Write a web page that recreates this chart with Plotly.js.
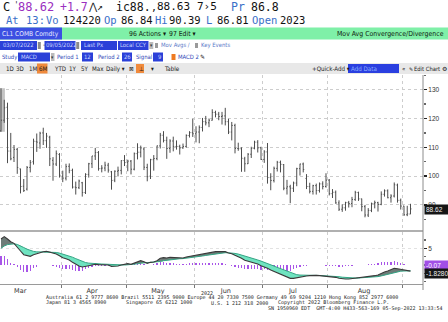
<!DOCTYPE html>
<html><head><meta charset="utf-8">
<script src="https://cdn.plot.ly/plotly-3.0.1.min.js"></script>
<style>html,body{margin:0;padding:0;background:#fff;overflow:hidden}#chart{width:448px;height:322px}</style>
</head><body><div id="chart"></div>
<script>
// ---- data ----
const dates = ["03-07","03-08","03-09","03-10","03-11","03-14","03-15","03-16","03-17","03-18","03-21","03-22","03-23","03-24","03-25","03-28","03-29","03-30","03-31",
"04-01","04-04","04-05","04-06","04-07","04-08","04-11","04-12","04-13","04-14","04-18","04-19","04-20","04-21","04-22","04-25","04-26","04-27","04-28","04-29",
"05-02","05-03","05-04","05-05","05-06","05-09","05-10","05-11","05-12","05-13","05-16","05-17","05-18","05-19","05-20","05-23","05-24","05-25","05-26","05-27","05-31",
"06-01","06-02","06-03","06-06","06-07","06-08","06-09","06-10","06-13","06-14","06-15","06-16","06-17","06-21","06-22","06-23","06-24","06-27","06-28","06-29","06-30",
"07-01","07-05","07-06","07-07","07-08","07-11","07-12","07-13","07-14","07-15","07-18","07-19","07-20","07-21","07-22","07-25","07-26","07-27","07-28","07-29",
"08-01","08-02","08-03","08-04","08-05","08-08","08-09","08-10","08-11","08-12","08-15","08-16","08-17","08-18","08-19","08-22","08-23","08-24","08-25","08-26","08-29","08-30","08-31",
"09-01","09-02","09-05"];
const openPx = [115.7,119.4,123.9,108.7,106.5,109.3,102.5,96.5,95.5,103.0,105.0,112.0,111.5,115.0,112.3,113.5,105.5,104.2,107.5,
100.0,99.3,103.4,102.0,96.2,96.0,97.7,94.3,100.6,104.3,107.0,108.2,102.6,102.8,103.8,101.5,98.6,101.7,102.0,105.4,
104.7,105.2,102.4,107.8,108.3,109.4,103.0,100.0,105.7,106.1,110.5,114.2,112.4,109.6,112.2,110.3,110.3,109.8,110.3,114.1,115.1,
114.7,115.3,116.9,118.9,118.5,119.4,122.1,121.5,120.7,120.9,118.9,115.3,117.6,109.6,109.5,106.0,104.3,107.6,109.6,111.8,109.8,
105.8,108.4,99.5,98.5,102.7,104.8,104.0,95.8,96.3,95.8,97.6,102.6,104.2,99.2,96.4,94.7,96.7,95.0,97.3,96.4,
98.6,93.9,94.4,90.7,88.5,89.0,90.8,90.5,91.9,94.3,92.1,89.4,86.5,88.1,90.5,90.8,90.2,93.7,94.9,92.5,93.1,96.9,91.6,
89.6,86.6,86.84];
const highPx = [130.5,126.5,125.5,115.0,110.8,109.8,102.6,99.0,103.5,105.6,113.0,114.8,115.4,116.8,115.0,114.0,106.6,108.9,108.0,
101.9,104.3,104.4,102.6,98.1,98.8,98.0,101.0,104.6,107.0,109.8,108.7,103.8,105.0,104.6,101.8,102.0,103.3,105.5,107.3,
105.7,105.6,108.2,111.4,110.6,110.0,104.3,106.0,107.3,110.6,115.0,115.6,113.7,112.8,113.7,112.4,110.9,111.3,114.5,115.6,119.9,
117.3,117.6,120.2,120.9,120.0,123.2,122.7,122.3,122.3,123.7,119.9,118.8,118.2,111.6,110.0,106.7,108.0,110.2,112.3,112.5,110.2,
109.0,111.5,101.0,103.3,105.3,105.4,104.2,98.7,97.0,98.1,102.9,104.3,104.7,100.7,97.7,97.0,97.4,97.8,98.2,101.0,
99.0,95.5,95.0,91.6,90.2,91.1,91.4,92.8,94.9,94.6,92.2,90.0,88.9,90.8,91.5,91.1,94.7,95.4,95.4,93.7,97.8,97.4,92.2,
89.7,89.7,90.39];
const lowPx = [115.4,118.5,104.5,105.5,104.9,100.8,94.0,94.5,95.0,101.3,104.0,108.4,109.5,110.8,109.8,103.5,98.4,103.5,99.5,
97.9,98.5,101.0,95.7,93.6,95.5,92.9,93.8,99.5,102.8,105.6,101.9,101.3,101.7,101.2,95.3,97.9,99.9,100.6,103.5,
101.7,100.6,102.0,105.8,106.5,102.1,98.2,99.0,101.9,105.5,109.6,111.7,106.0,108.1,108.6,109.2,107.5,109.5,109.9,113.4,113.6,
111.7,111.4,115.5,117.6,117.0,119.3,120.4,119.4,117.9,117.6,114.6,112.4,107.9,108.8,101.5,101.5,104.2,106.3,109.3,108.2,105.6,
104.6,97.4,95.1,97.8,101.6,101.3,95.1,93.6,90.6,94.5,96.5,100.2,101.3,95.5,94.0,93.6,93.6,94.3,95.4,96.0,
93.3,92.4,90.4,87.9,87.6,88.0,89.1,89.2,91.4,91.4,87.8,85.7,85.8,87.5,88.8,87.7,89.9,92.9,92.3,90.8,92.6,90.8,88.4,
86.2,86.1,86.81];
const closePx = [119.4,123.7,108.7,106.0,109.3,103.0,96.4,95.0,103.0,104.7,112.1,111.8,114.9,112.3,113.9,106.0,104.2,107.8,100.3,
99.3,103.3,102.0,96.2,96.0,98.3,94.3,100.6,104.3,107.0,108.2,102.6,102.8,103.8,102.1,98.5,101.7,102.0,105.4,104.7,
105.2,102.4,107.8,108.3,109.8,103.1,99.8,105.7,106.1,110.5,114.2,112.4,109.6,112.2,110.3,110.3,109.8,110.3,114.1,115.1,114.7,
115.3,116.9,118.9,118.5,119.4,122.1,121.5,120.7,120.9,118.9,115.3,117.6,109.6,109.5,106.2,104.3,107.6,109.6,111.8,109.8,105.8,
108.4,99.5,98.5,102.7,104.8,104.1,95.8,96.3,95.8,97.6,102.6,104.2,102.3,96.4,94.7,96.7,95.0,97.3,96.4,98.6,
93.9,94.4,90.7,88.5,89.0,90.8,90.5,91.9,94.3,92.1,89.4,86.5,88.1,90.5,90.8,90.2,93.7,94.9,92.5,93.1,97.0,91.6,89.6,
86.6,86.9,88.62];
const macdVals = [7.8,8.5,7.8,7.0,6.5,5.5,4.2,3.1,2.8,2.6,3.1,3.4,3.9,4.0,4.1,3.9,3.5,3.3,2.8,
2.2,1.9,1.5,0.8,0.2,-0.3,-0.6,-0.5,-0.2,0.0,0.2,0.1,0.1,0.1,0.0,-0.4,-0.4,-0.3,0.0,0.2,
0.4,0.2,0.6,1.0,1.3,1.0,0.5,0.8,0.9,1.3,2.0,2.2,2.1,2.3,2.2,2.2,2.1,2.1,2.4,2.6,2.8,
2.9,3.1,3.4,3.5,3.6,3.9,4.0,4.0,4.1,4.0,3.6,3.4,2.9,2.5,2.0,1.4,1.1,0.9,0.7,0.3,-0.2,
-0.5,-1.0,-1.5,-1.9,-2.3,-2.6,-3.2,-3.6,-4.0,-4.0,-3.8,-3.5,-3.3,-3.3,-3.2,-3.1,-3.1,-3.2,-3.3,-3.4,
-3.5,-3.5,-3.7,-4.0,-4.2,-4.2,-4.2,-4.1,-3.9,-3.8,-3.7,-3.7,-3.6,-3.4,-3.2,-3.0,-2.5,-2.1,-1.8,-1.5,-1.0,-1.1,-1.3,
-1.6,-1.8,-1.828];
const signalVals = [5.0,5.7,6.12,6.30,6.34,6.17,5.78,5.24,4.75,4.32,4.08,3.94,3.93,3.94,3.97,3.96,3.87,3.76,3.57,
3.30,3.02,2.72,2.34,1.91,1.47,1.06,0.75,0.56,0.45,0.40,0.34,0.29,0.25,0.20,0.08,-0.02,-0.08,-0.06,-0.01,
0.07,0.10,0.20,0.36,0.55,0.64,0.61,0.65,0.70,0.82,1.06,1.29,1.45,1.62,1.74,1.83,1.88,1.92,2.02,2.14,2.27,
2.40,2.54,2.71,2.87,3.02,3.19,3.35,3.48,3.60,3.68,3.66,3.61,3.47,3.28,3.02,2.70,2.38,2.08,1.81,1.51,1.17,
0.84,0.47,0.08,-0.32,-0.72,-1.10,-1.52,-1.94,-2.35,-2.68,-2.90,-3.02,-3.08,-3.12,-3.14,-3.13,-3.12,-3.14,-3.17,-3.22,
-3.28,-3.32,-3.40,-3.52,-3.66,-3.77,-3.86,-3.91,-3.91,-3.89,-3.85,-3.82,-3.78,-3.70,-3.60,-3.48,-3.28,-3.04,-2.79,-2.53,-2.22,-2.00,-1.86,
-1.81,-1.78,-1.758];
const monthLabels = ["Mar","Apr","May","Jun","Jul","Aug"];
const monthLabelPos = [5.9, 28, 48.3, 69.2, 89.8, 111.7];
const monthStarts = [18.5, 38.5, 59.5, 80.5, 100.5, 123.5];
const priceTicks = [90, 100, 110, 120, 130];
const macdTicks = [5];

// ---- derived ----
const xi = dates.map((d, i) => i);
const hist = macdVals.map((m, i) => m - signalVals[i]);
const upper = macdVals.map((m, i) => Math.max(m, signalVals[i]));
const lower = macdVals.map((m, i) => Math.min(m, signalVals[i]));

const W = 448, H = 322;
const px = x => x / W, py = y => 1 - y / H;
const DOMX = [0, 423 / W];
const MONO = "DejaVu Sans Mono, monospace";
const COND = "'Liberation Sans Narrow','DejaVu Sans Condensed','Liberation Sans',Arial,sans-serif";
const SANS = "'Liberation Sans', Arial, sans-serif";

const shapes = [];
const ann = [];
function rect(x0, y0, x1, y1, color) {
  shapes.push({type: 'rect', xref: 'paper', yref: 'paper', x0: px(x0), x1: px(x1), y0: py(y1), y1: py(y0),
    fillcolor: color, line: {width: 0}, layer: 'below'});
}
function txt(x, y, text, color, size, family, anchor) {
  ann.push({xref: 'paper', yref: 'paper', x: px(x), y: py(y), text: text, showarrow: false,
    xanchor: anchor || 'left', yanchor: 'middle', borderpad: 0,
    font: {color: color, size: size, family: family}});
}

// header line 1
const BLUE = '#3a6fc8', PURP = '#9a2fc0';
txt(2, 7, 'C', '#111', 12, MONO);
txt(13, 5.5, "'", '#333', 8, MONO);
txt(17, 7, '88.62', PURP, 12, MONO);
txt(59, 7, '+1.7', PURP, 11.5, MONO);
txt(87, 7, '⋀↗', '#222', 10, MONO);
txt(115, 7, 'ic88.', '#111', 11.5, MONO);
txt(150, 7.5, ',', '#111', 10, MONO);
txt(156, 7, '88.63', '#111', 11, MONO);
txt(196, 7, '7›5', '#111', 11, MONO);
txt(230, 7, 'Pr', BLUE, 11.5, MONO);
txt(250, 7, '86.8', '#111', 11.5, MONO);
// header line 2
[[5,'At',BLUE],[25,'13:',BLUE],[45,'Vo',BLUE],[62,'124220','#111'],[103,'Op',BLUE],[120,'86.84','#111'],
 [154,'Hi',BLUE],[168,'90.39','#111'],[205,'L',BLUE],[216,'86.81','#111'],[251,'Open',BLUE],[279,'2023','#111']]
 .forEach(t => txt(t[0], 20, t[1], t[2], 10.5, MONO));

// green title bar
rect(0, 27.5, 448, 39.5, '#7ff0a8');
rect(0, 27.5, 62, 39.5, '#3c4fe2');
txt(1, 33.5, 'CL1 COMB Comdty', '#e6ebff', 6.6, COND);
txt(128, 33.5, '96 Actions ▾', '#102010', 6.8, COND);
txt(168, 33.5, '97 Edit ▾', '#102010', 6.8, COND);
txt(445, 33.5, 'Mov Avg Convergence/Divergence', '#102010', 6.9, COND, 'right');

// row 3
const BOX = '#2b40d8', BOXT = '#c9d4ff', LBL = '#2f49b8';
const S3 = 5.9;
rect(0, 41, 37, 50, BOX); txt(1.5, 45.5, '03/07/2022', BOXT, S3, COND);
rect(37.8, 42, 40.8, 49, '#8a8a8a');
txt(42, 45.5, '-', '#333', 7, COND);
rect(44.5, 41, 75.5, 50, BOX); txt(45.3, 45.5, '09/05/2022', BOXT, S3, COND);
rect(76.2, 42, 79.2, 49, '#8a8a8a');
rect(81, 41, 117, 50, BOX); txt(83, 45.5, 'Last Px', BOXT, S3, COND);
rect(118, 41, 148.5, 50, BOX); txt(119.3, 45.5, 'Local CCY', BOXT, S3, COND);
rect(149.3, 42, 153.3, 49, '#bbbbbb'); txt(151.3, 45.5, '▾', '#333', 5, COND, 'center');
rect(155, 43, 158, 48, '#9a9a9a'); txt(160, 45.5, 'Mov Avgs ∕', '#5a78c8', S3, COND);
rect(195, 43, 198, 48, '#9a9a9a'); txt(200, 45.5, 'Key Events', '#5a78c8', S3, COND);

// row 4
txt(1, 57, 'Study', LBL, S3, COND);
rect(18, 52.5, 50, 61.5, BOX); txt(19.5, 57, 'MACD', BOXT, S3, COND);
rect(51, 53, 54.5, 61, '#bbbbbb'); txt(52.7, 57, '▾', '#333', 5, COND, 'center');
txt(56, 57, 'Period 1', LBL, S3, COND);
rect(82, 52.5, 93, 61.5, BOX); txt(87.5, 57, '12', BOXT, S3, COND, 'center');
txt(97, 57, 'Period 2', LBL, S3, COND);
rect(122, 52.5, 132, 61.5, BOX); txt(127, 57, '26', BOXT, S3, COND, 'center');
txt(135, 57, 'Signal', LBL, S3, COND);
rect(153, 52.5, 163, 61.5, BOX); txt(162, 57, '9', BOXT, S3, COND, 'right');
rect(171.5, 54, 175.5, 60, '#ef7a22'); txt(177, 57, 'MACD 2', LBL, S3, COND);
txt(199, 57, '✎', '#222', 6, SANS);

// row 5 (tool strip)
rect(0, 63, 448, 74, '#e8e8e8');
rect(37, 63.5, 47.5, 73.5, '#f08a3c');
rect(136, 64, 144, 73, '#f08a3c');
rect(348, 64, 399, 73, '#2a3fe0');
const S5 = 6.2;
[[5,'1D'],[15,'3D'],[28,'1M'],[38.3,'6M'],[53,'YTD'],[68,'1Y'],[80,'5Y'],[91,'Max'],[105,'Daily ▾'],[128,'⊠'],
 [138,'⊥'],[150,'▾'],[163,'Table'],[311,'+Quick-Add ▾'],[401,'«']]
 .forEach(t => txt(t[0], 68.5, t[1], '#1a1a1a', S5, COND));
txt(407.5, 68.5, '✎', '#1a1a1a', 5, SANS);
txt(413, 68.5, 'Edit Chart', '#1a1a1a', 5.8, COND);
txt(447.5, 68.5, '⚙', '#1a1a1a', 6, SANS, 'right');
txt(350, 68.5, 'Add Data', '#8fb2ff', S5, COND);

// chart decorations
shapes.push({type: 'rect', xref: 'x', yref: 'y', x0: xi[0] - 0.3, x1: xi[0] + 1.2, y0: lowPx[0], y1: highPx[0],
  fillcolor: '#c4c4c4', line: {width: 0}, layer: 'below'});
shapes.push({type: 'line', xref: 'paper', yref: 'paper', x0: 0, x1: DOMX[1], y0: py(231), y1: py(231),
  line: {color: '#b0b0b0', width: 2}});
shapes.push({type: 'line', xref: 'paper', yref: 'paper', x0: DOMX[1], x1: DOMX[1], y0: py(290), y1: py(75),
  line: {color: '#8c8c8c', width: 1}});

// last value labels
const lastI = xi.length - 1;
ann.push({xref: 'paper', yref: 'y', x: px(424), y: closePx[lastI], yshift: -1, text: closePx[lastI].toFixed(2),
  showarrow: false, xanchor: 'left', yanchor: 'middle', bgcolor: '#161616', borderpad: 1,
  font: {color: '#f0f0f0', size: 6.5, family: SANS}, width: 22, align: 'left'});
ann.push({xref: 'paper', yref: 'y2', x: px(424), y: hist[lastI], text: hist[lastI].toFixed(2),
  showarrow: false, xanchor: 'left', yanchor: 'middle', bgcolor: '#a24fe6', borderpad: 1,
  font: {color: '#ffffff', size: 6.5, family: SANS}, width: 22, align: 'left'});
ann.push({xref: 'paper', yref: 'y2', x: px(424), y: macdVals[lastI], yshift: -2, text: macdVals[lastI].toFixed(4),
  showarrow: false, xanchor: 'left', yanchor: 'middle', bgcolor: '#161616', borderpad: 1,
  font: {color: '#f0f0f0', size: 6.5, family: SANS}, width: 22, align: 'left'});

// footer
const FOOT = '#222';
txt(207, 292.8, '2022', FOOT, 5, MONO, 'center');
txt(45, 297.4, 'Australia 61 2 9777 8600 Brazil 5511 2395 9000 Europe 44 20 7330 7500 Germany 49 69 9204 1210 Hong Kong 852 2977 6000', FOOT, 5, MONO);
txt(45, 302.9, 'Japan 81 3 4565 8900', FOOT, 5, MONO);
txt(125, 302.9, 'Singapore 65 6212 1000', FOOT, 5, MONO);
txt(210, 302.9, 'U.S. 1 212 318 2000', FOOT, 5, MONO);
txt(277, 302.9, 'Copyright 2022 Bloomberg Finance L.P.', FOOT, 5, MONO);
txt(267, 308.4, 'SN 1950960 EDT  GMT-4:00 H433-563-169 05-Sep-2022 13:33:54', FOOT, 5, MONO);

const traces = [
  {type: 'ohlc', x: xi, open: openPx, high: highPx, low: lowPx, close: closePx, xaxis: 'x', yaxis: 'y',
   increasing: {line: {color: '#4d4d4d', width: 1}}, decreasing: {line: {color: '#4d4d4d', width: 1}},
   tickwidth: 0.3, hoverinfo: 'skip', showlegend: false},
  {type: 'bar', x: xi, y: hist, xaxis: 'x2', yaxis: 'y2', width: 0.38, marker: {color: '#a855e8', line: {width: 0}},
   hoverinfo: 'skip', showlegend: false},
  {type: 'scatter', mode: 'lines', x: xi, y: signalVals, xaxis: 'x2', yaxis: 'y2', line: {width: 0}, hoverinfo: 'skip', showlegend: false},
  {type: 'scatter', mode: 'lines', x: xi, y: upper, xaxis: 'x2', yaxis: 'y2', line: {width: 0}, fill: 'tonexty',
   fillcolor: '#6e7c78', hoverinfo: 'skip', showlegend: false},
  {type: 'scatter', mode: 'lines', x: xi, y: signalVals, xaxis: 'x2', yaxis: 'y2', line: {width: 0}, hoverinfo: 'skip', showlegend: false},
  {type: 'scatter', mode: 'lines', x: xi, y: lower, xaxis: 'x2', yaxis: 'y2', line: {width: 0}, fill: 'tonexty',
   fillcolor: '#6fe3c0', hoverinfo: 'skip', showlegend: false},
  {type: 'scatter', mode: 'lines', x: xi, y: signalVals, xaxis: 'x2', yaxis: 'y2', line: {color: '#34a484', width: 1}, hoverinfo: 'skip', showlegend: false},
  {type: 'scatter', mode: 'lines', x: xi, y: macdVals, xaxis: 'x2', yaxis: 'y2', line: {color: '#3a3a3a', width: 1.1}, hoverinfo: 'skip', showlegend: false}
];

const XR = [-0.31, 129.85];
const GRID = '#cdcdcd';
const layout = {
  width: W, height: H, margin: {l: 0, r: 0, t: 0, b: 0}, paper_bgcolor: '#ffffff', plot_bgcolor: '#ffffff',
  showlegend: false, dragmode: false, hovermode: false, bargap: 0,
  xaxis: {domain: DOMX, range: XR, anchor: 'y', tickmode: 'array', tickvals: monthStarts, showticklabels: false,
    ticks: '', showgrid: true, gridcolor: GRID, griddash: 'dot', gridwidth: 1, zeroline: false, showline: false,
    rangeslider: {visible: false}, fixedrange: true},
  yaxis: {domain: [py(230), py(75)], range: [81.3, 135.1], anchor: 'x', side: 'right', tickmode: 'array',
    tickvals: priceTicks, ticks: 'outside', ticklen: 3, tickwidth: 1.5, tickcolor: '#222', showgrid: true,
    gridcolor: GRID, griddash: 'dot', zeroline: false, showline: false,
    tickfont: {family: SANS, size: 6.5, color: '#333'},
    minor: {tickmode: 'linear', tick0: 85, dtick: 10, ticks: 'outside', ticklen: 2, tickcolor: '#666', showgrid: false},
    fixedrange: true},
  xaxis2: {domain: DOMX, range: XR, anchor: 'y2', tickmode: 'array', tickvals: monthLabelPos, ticktext: monthLabels,
    ticks: '', showgrid: false, zeroline: false, showline: true, linecolor: '#9a9a9a', linewidth: 1,
    tickfont: {family: "'DejaVu Sans', sans-serif", size: 6.5, color: '#333'},
    minor: {tickmode: 'array', tickvals: monthStarts, showgrid: true, gridcolor: GRID, griddash: 'dot',
      ticks: 'outside', ticklen: 3, tickcolor: '#777'},
    fixedrange: true},
  yaxis2: {domain: [py(284), py(232)], range: [-5.7, 9.9], anchor: 'x2', side: 'right', tickmode: 'array',
    tickvals: macdTicks, ticks: 'outside', ticklen: 3, tickwidth: 1.5, tickcolor: '#222', showgrid: true,
    gridcolor: '#e2e2e2', griddash: 'dot', zeroline: false, showline: false,
    tickfont: {family: SANS, size: 6.5, color: '#333'},
    minor: {tickmode: 'linear', tick0: 0, dtick: 2.5, ticks: 'outside', ticklen: 2, tickcolor: '#666', showgrid: false},
    fixedrange: true},
  shapes: shapes,
  annotations: ann
};
Plotly.newPlot('chart', traces, layout, {displayModeBar: false, staticPlot: true});
</script>
</body></html>
